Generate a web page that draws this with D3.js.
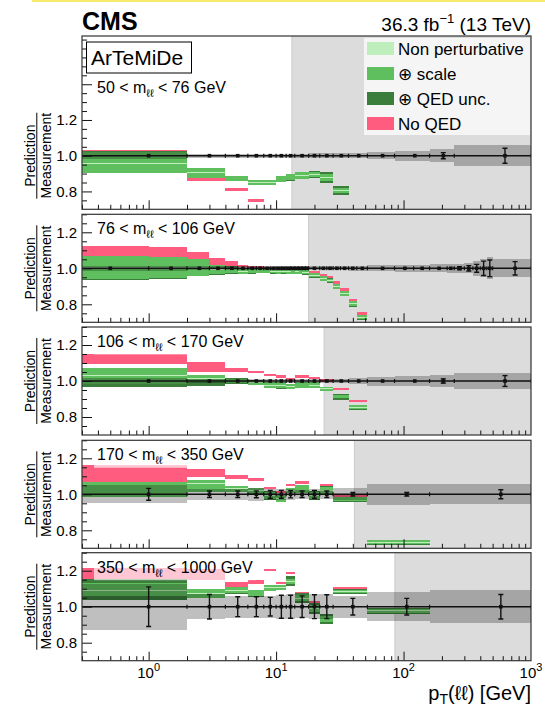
<!DOCTYPE html>
<html><head><meta charset="utf-8">
<script src="https://cdn.jsdelivr.net/npm/d3@7"></script>
<style>
html,body{margin:0;padding:0;background:#fff;}
svg{display:block;font-family:"Liberation Sans",Arial,Helvetica,sans-serif;}
</style></head><body>
<svg id="chart" width="545" height="707"></svg>
<script>
// ---- data -------------------------------------------------------------
const massLo = ['50', '76', '106', '170', '350'];
const massHi = ['76', '106', '170', '350', '1000'];
const shadeStart = [13.3, 18.0, 23.8, 41.2, 85.5];
const yTickLabels = [0.8, 1.0, 1.2];
const xTickLabels = [1, 10, 100, 1000];
const legendLabels = ['Non perturbative', '\u2295 scale', '\u2295 QED unc.', 'No QED'];

// 50 < m < 76 GeV
const edges_m1 = [0,2,4,6,8,10,12,14,18,22,28,37,52,85,160,250,1000];
const band_m1 = [0.02,0.012,0.012,0.012,0.012,0.012,0.012,0.012,0.013,0.013,0.013,0.014,0.018,0.027,0.035,0.06];
const err_m1 = [0.004,0.003,0.003,0.003,0.003,0.003,0.003,0.003,0.003,0.003,0.003,0.004,0.005,0.007,0.017,0.042];
const scale_m1 = [[0.904,1.02],[0.876,0.932],[0.857,0.884],[0.838,0.866],[0.836,0.864],[0.853,0.885],[0.862,0.898],[0.87,0.908],[0.878,0.911],[0.86,0.896],[0.792,0.818]];
const qed_m1 = [[0.904,1.026],[0.876,0.932],[0.857,0.884],[0.838,0.866],[0.836,0.864],[0.853,0.885],[0.86,0.9],[0.868,0.91],[0.873,0.916],[0.849,0.907],[0.78,0.83]];
const np_m1 = [[0.953,0.958],[0.902,0.906],[0.868,0.872],[0.85,0.854],[0.848,0.852],[0.867,0.871],[0.878,0.882],[0.887,0.891],[0.893,0.897],[0.876,0.88],[0.803,0.807]];
const noqed_m1 = [[1.018,1.032],[0.858,0.874],[0.803,0.821],[0.742,0.756]];

// 76 < m < 106 GeV
const edges_m2 = [0,1,2,3,4,5,6,7,8,9,10,11,12,13,14,15,16,17,18,22,25,28,32,37,43,52,85,120,160,220,250,300,350,400,450,500,1000];
const band_m2 = [0.014,0.013,0.012,0.012,0.012,0.012,0.012,0.012,0.012,0.012,0.012,0.012,0.012,0.012,0.012,0.012,0.012,0.012,
  0.012,0.012,0.012,0.012,0.012,0.013,0.014,0.016,0.018,0.02,0.022,0.024,0.026,0.028,0.04,0.051,0.062,0.05];
const err_m2 = [0.002,0.002,0.002,0.002,0.002,0.002,0.002,0.002,0.002,0.002,0.002,0.002,0.002,0.002,0.002,0.002,0.002,0.002,
  0.002,0.002,0.002,0.002,0.002,0.002,0.002,0.003,0.003,0.004,0.005,0.006,0.009,0.015,0.022,0.04,0.046,0.037];
const scale_m2 = [[0.94,1.068],[0.944,1.062],[0.957,1.05],[0.966,1.018],[0.972,1.01],[0.97,0.998],[0.972,0.997],[0.974,0.997],
  [0.975,0.995],[0.972,0.994],[0.97,0.993],[0.972,0.993],[0.97,0.992],[0.968,0.99],[0.97,0.992],[0.968,0.99],[0.966,0.99],[0.966,0.99],
  [0.949,0.974],[0.93,0.956],[0.923,0.943],[0.886,0.912],[0.848,0.875],[0.789,0.817],[0.716,0.739]];
const qed_m2 = [[0.937,1.07],[0.942,1.064],[0.955,1.051],[0.964,1.019],[0.97,1.011],[0.968,0.999],[0.97,0.998],[0.972,0.998],
  [0.973,0.996],[0.97,0.995],[0.968,0.994],[0.97,0.994],[0.968,0.993],[0.966,0.991],[0.968,0.993],[0.966,0.991],[0.964,0.991],[0.964,0.991],
  [0.947,0.975],[0.928,0.957],[0.921,0.944],[0.884,0.913],[0.846,0.876],[0.787,0.818],[0.714,0.74]];
const np_m2 = [[1.002,1.006],[1.001,1.005],[1.001,1.005],[0.99,0.994],[0.989,0.993],[0.982,0.986],[0.983,0.986],[0.984,0.987],
  [0.983,0.987],[0.981,0.985],[0.98,0.983],[0.981,0.984],[0.979,0.983],[0.977,0.981],[0.979,0.983],[0.977,0.981],[0.976,0.98],[0.976,0.98],
  [0.96,0.963],[0.941,0.945],[0.931,0.935],[0.897,0.901],[0.86,0.863],[0.801,0.805],[0.726,0.729]];
const noqed_m2 = [[1.055,1.125],[1.062,1.12],[1.05,1.093],[1.018,1.057],[1.01,1.038],[1.005,1.02],[1.0,1.015],[1.0,1.012],
  [0.996,1.008],[0.994,1.006],[0.993,1.005],[0.993,1.005],[0.992,1.004],[0.99,1.004],[0.992,1.004],[0.99,1.003],[0.99,1.002],[0.99,1.002],
  [0.974,0.986],[0.956,0.967],[0.943,0.956],[0.912,0.927],[0.875,0.89],[0.817,0.831],[0.739,0.756]];

// 106 < m < 170 GeV
const edges_m3 = [0,2,4,6,8,10,12,14,18,22,28,37,52,85,160,250,1000];
const band_m3 = [0.015,0.012,0.012,0.012,0.012,0.012,0.012,0.012,0.012,0.012,0.013,0.014,0.025,0.03,0.032,0.044];
const err_m3 = [0.004,0.003,0.003,0.003,0.003,0.003,0.003,0.003,0.003,0.003,0.003,0.004,0.005,0.006,0.012,0.03];
const scale_m3 = [[0.985,1.073],[0.995,1.033],[0.987,1.013],[0.978,1.002],[0.96,0.993],[0.96,0.993],[0.958,0.982],[0.963,0.993],[0.96,0.993],[0.947,0.969],[0.903,0.92],[0.842,0.866]];
const qed_m3 = [[0.968,1.073],[0.97,1.033],[0.984,1.015],[0.976,1.003],[0.96,0.993],[0.958,0.993],[0.956,0.984],[0.963,0.993],[0.96,0.993],[0.947,0.969],[0.895,0.927],[0.84,0.868]];
const np_m3 = [[1.028,1.032],[1.012,1.016],[0.998,1.002],[0.988,0.992],[0.975,0.979],[0.975,0.979],[0.968,0.972],[0.976,0.98],[0.975,0.979],[0.956,0.96],[0.909,0.913],[0.852,0.856]];
const noqed_m3 = [[1.092,1.152],[1.048,1.103],[1.051,1.073],[1.042,1.057],[1.027,1.038],[1.018,1.033],[1.004,1.018],[1.015,1.033],[1.009,1.024],[0.996,1.011],[0.95,0.963],[0.883,0.895]];

// 170 < m < 350 GeV
const edges_m4 = [0,2,4,6,8,10,12,14,18,22,28,52,160,1000];
const band_m4 = [0.05,0.03,0.03,0.035,0.03,0.03,0.03,0.025,0.03,0.025,0.033,0.057,0.055];
const err_m4 = [0.033,0.018,0.018,0.019,0.022,0.022,0.02,0.018,0.022,0.018,0.01,0.01,0.025];
const scale_m4 = [[0.987,1.07],[1.015,1.078],[1.015,1.048],[1.005,1.035],[0.972,1.015],[0.955,0.995],[1.009,1.033],[1.008,1.05],[0.972,1.015],[1.003,1.04],[0.962,0.985],[0.723,0.745]];
const qed_m4 = [[0.985,1.07],[1.013,1.078],[1.013,1.048],[1.003,1.035],[0.97,1.017],[0.955,0.997],[1.007,1.035],[1.006,1.05],[0.97,1.017],[0.998,1.045],[0.96,0.987],[0.721,0.747]];
const np_m4 = [[1.028,1.032],[1.058,1.062],[1.03,1.034],[1.018,1.022],[0.992,0.996],[0.973,0.977],[1.019,1.023],[1.027,1.031],[0.992,0.996],[1.02,1.024],[0.972,0.976],[0.732,0.736]];
const noqed_m4 = [[1.07,1.162],[1.095,1.143],[1.083,1.106],[1.075,1.09],[1.03,1.042],[1.005,1.02],[1.046,1.057],[1.06,1.075],[1.01,1.02],[1.042,1.057],[0.985,1.0]];

// 350 < m < 1000 GeV
const edges_m5 = [0,2,4,6,8,10,12,14,18,22,28,52,160,1000];
const band_m5 = [0.128,0.07,0.062,0.06,0.06,0.066,0.068,0.064,0.068,0.07,0.062,0.08,0.092];
const err_m5 = [0.11,0.068,0.055,0.055,0.052,0.064,0.064,0.06,0.066,0.066,0.046,0.046,0.068];
const scale_m5 = [[1.06,1.13],[1.05,1.1],[1.075,1.11],[1.058,1.095],[1.09,1.12],[1.095,1.12],[1.128,1.155],[1.03,1.065],[0.97,1.01],[0.915,0.948],[1.075,1.095],[0.965,0.988]];
const qed_m5 = [[1.037,1.156],[1.048,1.1],[1.073,1.11],[1.056,1.095],[1.088,1.12],[1.093,1.12],[1.115,1.168],[1.02,1.074],[0.958,1.02],[0.905,0.958],[1.072,1.097],[0.962,0.991]];
const np_m5 = [[1.088,1.092],[1.073,1.077],[1.09,1.094],[1.074,1.078],[1.103,1.107],[1.106,1.11],[1.14,1.144],[1.045,1.049],[0.988,0.992],[0.93,0.934],[1.083,1.087],[0.975,0.979]];
const noqed_m5 = [[1.15,1.215],[1.147,1.207],[1.11,1.138],[1.128,1.147],[1.2,1.212],[1.125,1.138],[1.184,1.193],[1.074,1.083],[1.019,1.03],null,[1.097,1.107]];

// ---- styling / layout -------------------------------------------------
const COL_NP = '#bdeebb', COL_SCALE = '#5fbf5f', COL_QED = '#3b7d3b', COL_NOQED = '#ff5c80';
const COL_SHADE = '#dcdcdc';
const X0 = 82, X1 = 531;
const panelBox = [[36, 209.3], [214.3, 322.3], [327, 435], [440.3, 548.3], [552.7, 660.7]];
const panelDom = [[0.7, 1.67], [0.7, 1.3], [0.7, 1.3], [0.7, 1.3], [0.7, 1.3]];
const labelBaseline = [93, 234.3, 347, 460.3, 572.7];

const panels = [
  {edges: edges_m1, band: band_m1, err: err_m1, scale: scale_m1, qed: qed_m1, np: np_m1, noqed: noqed_m1},
  {edges: edges_m2, band: band_m2, err: err_m2, scale: scale_m2, qed: qed_m2, np: np_m2, noqed: noqed_m2},
  {edges: edges_m3, band: band_m3, err: err_m3, scale: scale_m3, qed: qed_m3, np: np_m3, noqed: noqed_m3},
  {edges: edges_m4, band: band_m4, err: err_m4, scale: scale_m4, qed: qed_m4, np: np_m4, noqed: noqed_m4},
  {edges: edges_m5, band: band_m5, err: err_m5, scale: scale_m5, qed: qed_m5, np: np_m5, noqed: noqed_m5}
];

const svg = d3.select('#chart');
const defs = svg.append('defs');
const x = d3.scaleLog().domain([0.3, 1000]).range([X0, X1]);
const xc = v => x(Math.max(v, x.domain()[0]));

// thin highlight rule along the top edge
svg.append('rect').attr('x', 32).attr('y', 0).attr('width', 513).attr('height', 2).attr('fill', '#f6e96b');

// header
svg.append('text').attr('x', X0).attr('y', 30).attr('font-size', 25).attr('font-weight', 'bold').text('CMS');
const lumi = svg.append('text').attr('x', X1).attr('y', 31).attr('font-size', 19).attr('text-anchor', 'end');
lumi.append('tspan').text('36.3 fb');
lumi.append('tspan').attr('font-size', 13).attr('dy', -8).text('\u22121');
lumi.append('tspan').attr('dy', 8).text(' (13 TeV)');

panels.forEach((p, i) => {
  const [top, bottom] = panelBox[i];
  const y = d3.scaleLinear().domain(panelDom[i]).range([bottom, top]);
  const g = svg.append('g');
  const clipId = 'clip' + i;
  defs.append('clipPath').attr('id', clipId).append('rect')
    .attr('x', X0).attr('y', top).attr('width', X1 - X0).attr('height', bottom - top);
  const body = g.append('g').attr('clip-path', `url(#${clipId})`);

  // region where the prediction is not expected to hold
  body.append('rect').attr('x', x(shadeStart[i])).attr('y', top)
    .attr('width', X1 - x(shadeStart[i])).attr('height', bottom - top)
    .attr('fill', COL_SHADE);
  body.append('line').attr('x1', x(shadeStart[i])).attr('x2', x(shadeStart[i]))
    .attr('y1', top).attr('y2', bottom).attr('stroke', '#cacaca').attr('stroke-width', 1);

  const bins = p.edges.slice(0, -1).map((lo, k) => ({lo, hi: p.edges[k + 1], k}));

  const boxes = (arr, color) => body.append('g').attr('shape-rendering', 'crispEdges')
    .selectAll('rect').data(bins.filter(b => arr[b.k])).join('rect')
    .attr('x', b => xc(b.lo)).attr('width', b => xc(b.hi) - xc(b.lo))
    .attr('y', b => y(arr[b.k][1])).attr('height', b => y(arr[b.k][0]) - y(arr[b.k][1]))
    .attr('fill', color);

  boxes(p.noqed, COL_NOQED);
  boxes(p.qed, COL_QED);
  boxes(p.scale, COL_SCALE);
  boxes(p.np, COL_NP);

  // measurement uncertainty band
  body.append('g').attr('shape-rendering', 'crispEdges')
    .selectAll('rect').data(bins).join('rect')
    .attr('x', b => xc(b.lo)).attr('width', b => xc(b.hi) - xc(b.lo))
    .attr('y', b => y(1 + p.band[b.k])).attr('height', b => y(1 - p.band[b.k]) - y(1 + p.band[b.k]))
    .attr('fill', '#000').attr('fill-opacity', 0.25);

  // unity line with bin-edge markers
  body.append('line').attr('x1', X0).attr('x2', X1).attr('y1', y(1)).attr('y2', y(1))
    .attr('stroke', '#111').attr('stroke-width', 1.4);
  body.append('g').selectAll('line').data(p.edges.filter(e => e >= 0.3)).join('line')
    .attr('x1', e => x(e)).attr('x2', e => x(e)).attr('y1', y(1) - 2).attr('y2', y(1) + 2)
    .attr('stroke', '#111').attr('stroke-width', 1.2);

  // data points
  const pts = body.append('g');
  bins.forEach(b => {
    const cx = x((b.lo + b.hi) / 2);
    const e = p.err[b.k];
    const y1 = y(1 + e), y2 = y(1 - e);
    if (y2 - y1 > 3) {
      pts.append('line').attr('x1', cx).attr('x2', cx).attr('y1', y1).attr('y2', y2)
        .attr('stroke', '#111').attr('stroke-width', 1.4);
      [y1, y2].forEach(yy => pts.append('line').attr('x1', cx - 2.5).attr('x2', cx + 2.5)
        .attr('y1', yy).attr('y2', yy).attr('stroke', '#111').attr('stroke-width', 1.4));
    }
    pts.append('rect').attr('x', cx - 1.8).attr('y', y(1) - 1.8).attr('width', 3.6).attr('height', 3.6).attr('fill', '#111');
  });

  // mass-window label on a translucent backing
  const lab = g.append('text').attr('x', 97).attr('y', labelBaseline[i]).attr('font-size', 16);
  lab.append('tspan').text(massLo[i] + ' < m');
  lab.append('tspan').attr('font-size', 11).attr('dy', 4).text('\u2113\u2113');
  lab.append('tspan').attr('dy', -4).text(' < ' + massHi[i] + ' GeV');
  const bb = lab.node().getBBox();
  g.insert('rect', 'text').attr('x', bb.x - 3).attr('y', bb.y - 1).attr('width', bb.width + 6).attr('height', bb.height + 2.5)
    .attr('fill', '#fff').attr('fill-opacity', 0.65);

  // axes
  const dom = panelDom[i];
  const yMajor = d3.range(4, Math.floor(dom[1] * 5 + 1e-6) + 1).map(k => k / 5);
  const yMinor = d3.range(15, Math.floor(dom[1] * 20 + 1e-6) + 1).map(k => k / 20).filter(v => !yMajor.some(m => Math.abs(m - v) < 1e-6));
  const ax = g.append('g');
  ax.append('g').attr('transform', `translate(${X0},0)`)
    .call(d3.axisRight(y).tickValues(yMajor).tickSize(10).tickFormat(''));
  ax.append('g').attr('transform', `translate(${X0},0)`)
    .call(d3.axisRight(y).tickValues(yMinor).tickSize(5).tickFormat(''));
  ax.append('g').attr('transform', `translate(${X0},0)`)
    .call(d3.axisLeft(y).tickValues(yTickLabels).tickSize(0).tickPadding(5).tickFormat(d3.format('.1f')))
    .selectAll('text').attr('font-size', 15).attr('fill', '#000').attr('font-family', '"Liberation Sans",Arial,sans-serif');
  const xMajor = [1, 10, 100];
  const xMinor = [];
  [0.1, 1, 10, 100].forEach(d => d3.range(2, 10).forEach(m => { const v = d * m; if (v > 0.3 && v < 1000) xMinor.push(v); }));
  ax.append('g').attr('transform', `translate(0,${bottom})`)
    .call(d3.axisTop(x).tickValues(xMajor).tickSize(9).tickFormat(''));
  ax.append('g').attr('transform', `translate(0,${bottom})`)
    .call(d3.axisTop(x).tickValues(xMinor).tickSize(4.5).tickFormat(''));
  ax.selectAll('.domain').remove();
  ax.selectAll('.tick line').attr('stroke', '#111');

  // frame
  g.append('rect').attr('x', X0).attr('y', top).attr('width', X1 - X0).attr('height', bottom - top)
    .attr('fill', 'none').attr('stroke', '#333').attr('stroke-width', 1.2);

  // y title as a stacked fraction
  const yc = y(1);
  g.append('text').attr('transform', `translate(34.5,${yc}) rotate(-90)`).attr('text-anchor', 'middle')
    .attr('font-size', 14).text('Prediction');
  g.append('line').attr('x1', 36.8).attr('x2', 36.8).attr('y1', yc - 43).attr('y2', yc + 43)
    .attr('stroke', '#000').attr('stroke-width', 1);
  g.append('text').attr('transform', `translate(51,${yc}) rotate(-90)`).attr('text-anchor', 'middle')
    .attr('font-size', 14).text('Measurement');

  // x labels on the bottom panel
  if (i === panels.length - 1) {
    xTickLabels.forEach(v => {
      const t = g.append('text').attr('x', x(v)).attr('y', bottom + 17).attr('font-size', 15).attr('text-anchor', 'middle');
      t.append('tspan').text('10');
      t.append('tspan').attr('font-size', 11).attr('dy', -7).text(String(Math.round(Math.log10(v))));
    });
    const tt = g.append('text').attr('x', X1).attr('y', 700).attr('font-size', 20).attr('text-anchor', 'end');
    tt.append('tspan').text('p');
    tt.append('tspan').attr('font-size', 14).attr('dy', 4).text('T');
    tt.append('tspan').attr('dy', -4).text('(\u2113\u2113) [GeV]');
  }
});

// model name box
svg.append('rect').attr('x', 86.5).attr('y', 42).attr('width', 105).attr('height', 31)
  .attr('fill', '#fff').attr('stroke', '#000').attr('stroke-width', 1);
svg.append('text').attr('x', 91).attr('y', 65).attr('font-size', 21).text('ArTeMiDe');

// legend
const legColors = [COL_NP, COL_SCALE, COL_QED, COL_NOQED];
svg.append('rect').attr('x', 364).attr('y', 38).attr('width', 166).attr('height', 97)
  .attr('fill', '#fff').attr('fill-opacity', 0.72);
legendLabels.forEach((lbl, k) => {
  const cy = 48.5 + k * 25;
  svg.append('rect').attr('x', 367).attr('y', cy - 6.5).attr('width', 27).attr('height', 13).attr('fill', legColors[k]);
  svg.append('text').attr('x', 398).attr('y', cy + 6).attr('font-size', 17).text(lbl);
});
</script></body></html>
